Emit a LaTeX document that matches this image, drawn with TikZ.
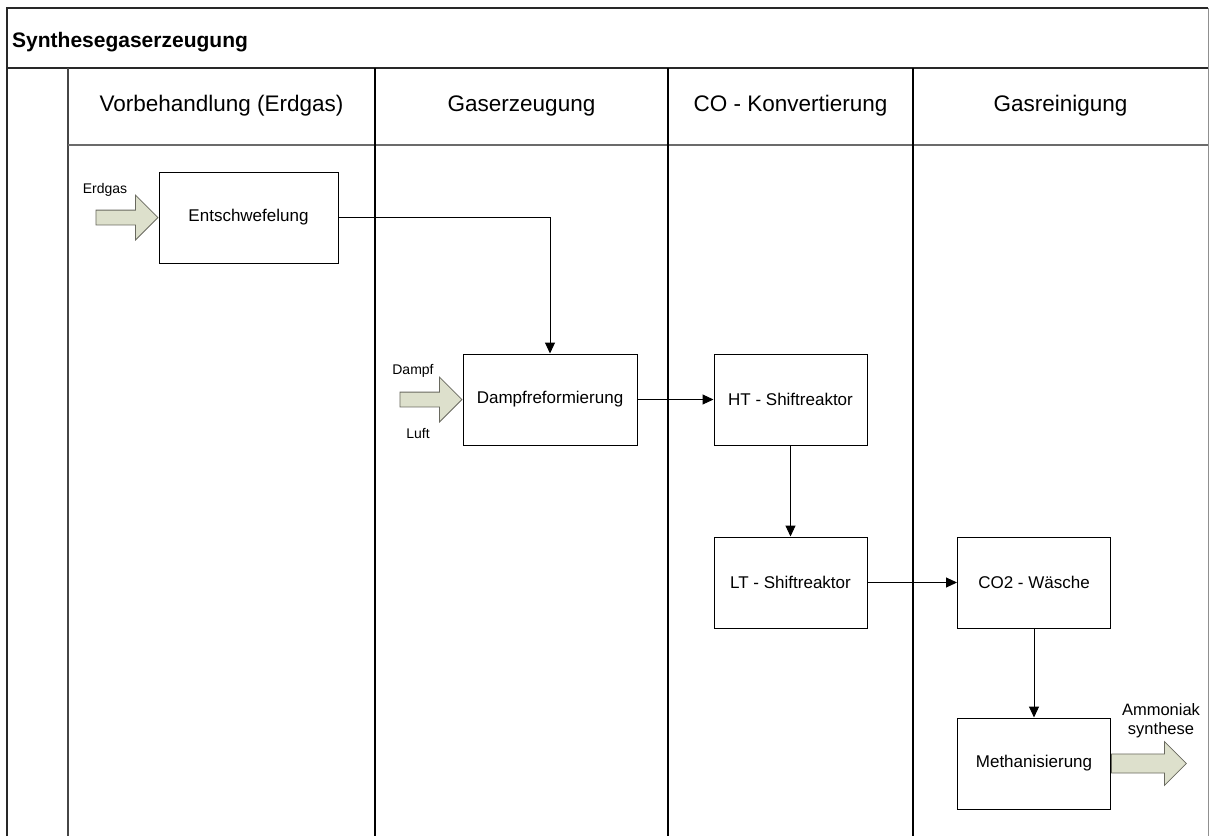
\documentclass[tikz,border=0pt]{standalone}
\usepackage{fontspec}
\setmainfont{Liberation Sans}
\usepackage{xcolor}
\definecolor{frame}{RGB}{40,40,40}
\definecolor{lanegray}{RGB}{70,70,70}
\definecolor{sage}{RGB}{221,224,204}
\definecolor{sageedge}{RGB}{105,105,95}
\usetikzlibrary{arrows.meta,positioning,shapes.arrows}
\tikzset{
  %% process steps
  procbox/.style={draw=black, line width=1pt, fill=white,
                  minimum width=178pt, minimum height=91pt,
                  font=\fontsize{17}{20}\selectfont},
  shiftbox/.style={procbox, minimum width=153pt},
  lanehead/.style={font=\fontsize{22.5}{26}\selectfont},
  %% feed arrows
  feed/.style={single arrow, draw=sageedge, fill=sage, line width=0.8pt,
               minimum height=62pt, minimum width=44pt,
               single arrow head extend=15pt, inner sep=7pt, anchor=tip},
  lbl/.style={font=\fontsize{14}{16}\selectfont, inner sep=0pt},
  flow/.style={line width=1pt, -{Triangle[length=11pt,width=10pt]}},
}
\begin{document}
\begin{tikzpicture}[x=1pt,y=-1pt]
\useasboundingbox (0,0) rectangle (1209,836);
% pool frame
\draw[frame, line width=1.4pt] (7,836) -- (7,8) -- (1208,8);
\draw[lanegray!60, line width=1pt] (1208,8) -- (1208,836);
\draw[frame, line width=2pt] (7,68) -- (1208,68);
\node[anchor=west, inner sep=0pt, font=\fontsize{21}{24}\selectfont\bfseries] (pool) at (12,42) {Synthesegaserzeugung};
% lanes
\draw[lanegray, line width=2pt] (68,68) -- (68,836);
\draw[lanegray!80, line width=1.2pt] (68,145) -- (1208,145);
\foreach \x in {375,668,913}
  \draw[black, line width=1.4pt] (\x,68) -- (\x,836);
\node[lanehead] (h1) at (221.5,106) {Vorbehandlung (Erdgas)};
\node[lanehead] (h2) at (521.5,106) {Gaserzeugung};
\node[lanehead] (h3) at (790.5,106) {CO - Konvertierung};
\node[lanehead] (h4) at (1060.5,106) {Gasreinigung};

% steps
\node[procbox, minimum width=179pt] (ent) at (248.5,217.5) {Entschwefelung};
\node[procbox, minimum width=174pt] (dampf) at (550,399.5) {Dampfreformierung};
\node[shiftbox] (ht) at (790.5,399.5) {HT - Shiftreaktor};
\node[shiftbox] (lt) at (790.5,582.5) {LT - Shiftreaktor};
\node[shiftbox] (co2) at (1034,582.5) {CO2 - Wäsche};
\node[shiftbox] (meth) at (1034,763.5) {Methanisierung};

% flows
\draw[flow] (ent.east) -| (dampf.north);
\draw[flow] (dampf) -- (ht);
\draw[flow] (ht) -- (lt);
\draw[flow] (lt) -- (co2);
\draw[flow] (co2) -- (meth);

% feeds
\node[feed] (inErdgas) at (ent.west) {};
\node[lbl] (lErdgas) at (105,190) {Erdgas};
\node[feed] (inDampf) at (dampf.west) {};
\node[lbl] (lDampf) at (413,371) {Dampf};
\node[lbl] (lLuft) at (418,433) {Luft};
\node[feed, anchor=tail, minimum height=75pt, single arrow head extend=11pt, inner sep=8pt] (outNH3) at (meth.east) {};
\node[lbl, font=\fontsize{16.5}{19}\selectfont, align=center, anchor=south] (lNH3) at (1161,738) {Ammoniak\\synthese};
\end{tikzpicture}
\end{document}
